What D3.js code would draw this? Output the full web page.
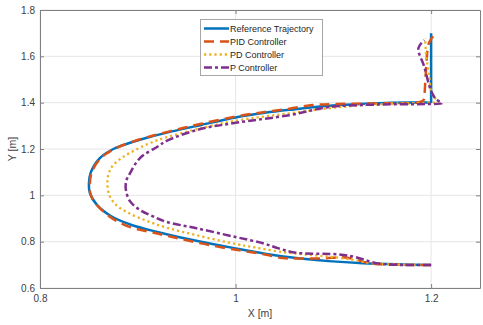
<!DOCTYPE html>
<html><head><meta charset="utf-8">
<script src="https://cdn.jsdelivr.net/npm/d3@7"></script>
<style>body{margin:0;background:#fff}svg{display:block;font-family:"Liberation Sans",Arial,sans-serif}</style>
</head><body><svg id="c" width="483" height="325"></svg>
<script>
const xTicks=[0.8,1,1.2];
const yTicks=[0.6,0.8,1,1.2,1.4,1.6,1.8];
const seriesNames=["Reference Trajectory","PID Controller","PD Controller","P Controller"];
const refX=[1.2,1.165,1.13,1.095,1.062,1.03,1.0,0.95,0.92,0.893,0.872,0.858,0.851,0.850,0.852,0.861,0.875,0.893,0.912,0.935,0.965,1.0,1.03,1.055,1.096,1.147,1.19,1.2,1.2,1.2,1.2];
const refY=[0.699,0.702,0.707,0.716,0.729,0.748,0.771,0.813,0.842,0.873,0.912,0.96,1.01,1.05,1.1,1.16,1.2,1.228,1.252,1.276,1.304,1.336,1.356,1.369,1.387,1.398,1.401,1.402,1.41,1.55,1.7];
const pidX=[1.2,1.16,1.137,1.113,1.09,1.065,1.048,1.03,1.011,0.99,0.95,0.92,0.89,0.872,0.86,0.852,0.851,0.853,0.862,0.876,0.895,0.915,0.94,0.965,1.0,1.03,1.055,1.079,1.103,1.15,1.185,1.192,1.193,1.195,1.198,1.206];
const pidY=[0.699,0.701,0.707,0.732,0.728,0.727,0.729,0.745,0.758,0.772,0.806,0.835,0.866,0.906,0.95,1.0,1.05,1.1,1.16,1.2,1.232,1.257,1.284,1.309,1.34,1.36,1.374,1.39,1.394,1.397,1.4,1.41,1.428,1.555,1.66,1.706];
const pdX=[1.2,1.17,1.14,1.12,1.096,1.07,1.045,1.02,1.0,0.96,0.93,0.909,0.89,0.878,0.871,0.869,0.873,0.883,0.895,0.912,0.929,0.96,1.0,1.055,1.1,1.15,1.2,1.208,1.204,1.2,1.198,1.195,1.194];
const pdY=[0.699,0.701,0.707,0.722,0.735,0.745,0.757,0.775,0.79,0.828,0.86,0.89,0.925,0.958,1.0,1.066,1.12,1.16,1.19,1.225,1.25,1.285,1.322,1.354,1.378,1.394,1.4,1.404,1.42,1.45,1.52,1.6,1.678];
const pX=[1.2,1.165,1.144,1.123,1.106,1.062,1.045,1.028,1.0,0.96,0.929,0.915,0.902,0.892,0.888,0.888,0.892,0.902,0.92,0.93,0.963,1.0,1.055,1.096,1.147,1.195,1.211,1.205,1.2,1.193,1.187,1.193];
const pY=[0.699,0.7,0.707,0.733,0.745,0.752,0.77,0.793,0.82,0.858,0.886,0.91,0.937,0.975,1.02,1.06,1.095,1.16,1.21,1.236,1.285,1.313,1.346,1.381,1.392,1.394,1.398,1.415,1.45,1.555,1.635,1.67];

const colors=["#0072BD","#D95319","#EDB120","#7E2F8E"];
const dashes=[null,"10,6","2.2,3","8,3,3,3"];
const widths=[2.5,2.5,2.3,2.5];
const svg=d3.select("#c");
const L=40,R=480,T=10,B=288;
const x=d3.scaleLinear().domain([0.8,1.25]).range([L,R]);
const y=d3.scaleLinear().domain([0.6,1.8]).range([B,T]);
const g=svg.append("g");
// grid
g.selectAll(".gx").data(xTicks).join("line").attr("x1",d=>x(d)).attr("x2",d=>x(d)).attr("y1",T).attr("y2",B).attr("stroke","#e6e6e6").attr("stroke-width",1);
g.selectAll(".gy").data(yTicks).join("line").attr("y1",d=>y(d)).attr("y2",d=>y(d)).attr("x1",L).attr("x2",R).attr("stroke","#e6e6e6").attr("stroke-width",1);
// axes
const ax=d3.axisBottom(x).tickValues(xTicks).tickFormat(d3.format("")).tickSizeInner(-4).tickSizeOuter(0).tickPadding(7);
const ay=d3.axisLeft(y).tickValues(yTicks).tickFormat(d3.format("")).tickSizeInner(-4).tickSizeOuter(0).tickPadding(5);
const axT=d3.axisTop(x).tickValues(xTicks).tickFormat("").tickSizeInner(-4).tickSizeOuter(0);
const ayR=d3.axisRight(y).tickValues(yTicks).tickFormat("").tickSizeInner(-4).tickSizeOuter(0);
function style(sel){sel.selectAll("path").attr("stroke","#808080");sel.selectAll("line").attr("stroke","#808080");sel.selectAll("text").attr("fill","#404040").style("font-size","10px").style("font-family","'Liberation Sans',Arial,sans-serif");}
style(g.append("g").attr("transform",`translate(0,${B})`).call(ax));
style(g.append("g").attr("transform",`translate(${L},0)`).call(ay));
style(g.append("g").attr("transform",`translate(0,${T})`).call(axT));
style(g.append("g").attr("transform",`translate(${R},0)`).call(ayR));
g.append("text").attr("x",(L+R)/2).attr("y",317).attr("text-anchor","middle").attr("fill","#404040").style("font-size","10.5px").text("X [m]");
g.append("text").attr("transform",`translate(16,${(T+B)/2}) rotate(-90)`).attr("text-anchor","middle").attr("fill","#404040").style("font-size","10.5px").text("Y [m]");
// lines
const data=[[refX,refY],[pidX,pidY],[pdX,pdY],[pX,pY]].map(([xs,ys])=>xs.map((v,i)=>[v,ys[i]]));
const line=d3.line().x(d=>x(d[0])).y(d=>y(d[1])).curve(d3.curveCatmullRom.alpha(0.5));
[0,1,2,3].forEach(i=>{
  g.append("path").datum(data[i]).attr("d",line).attr("fill","none").attr("stroke",colors[i]).attr("stroke-width",widths[i])
   .attr("stroke-dasharray",dashes[i]).attr("stroke-linejoin","round");
});
// legend
const lg=g.append("g");
lg.append("rect").attr("x",200.5).attr("y",19.5).attr("width",122).attr("height",56).attr("fill","#fff").attr("stroke","#a6a6a6").attr("stroke-width",1);
seriesNames.forEach((n,i)=>{
  const yy=28.5+i*13;
  lg.append("line").attr("x1",204).attr("x2",229).attr("y1",yy).attr("y2",yy).attr("stroke",colors[i]).attr("stroke-width",widths[i]).attr("stroke-dasharray",dashes[i]);
  lg.append("text").attr("x",230).attr("y",yy+3.2).attr("fill","#262626").style("font-size","9px").text(n);
});
</script></body></html>
